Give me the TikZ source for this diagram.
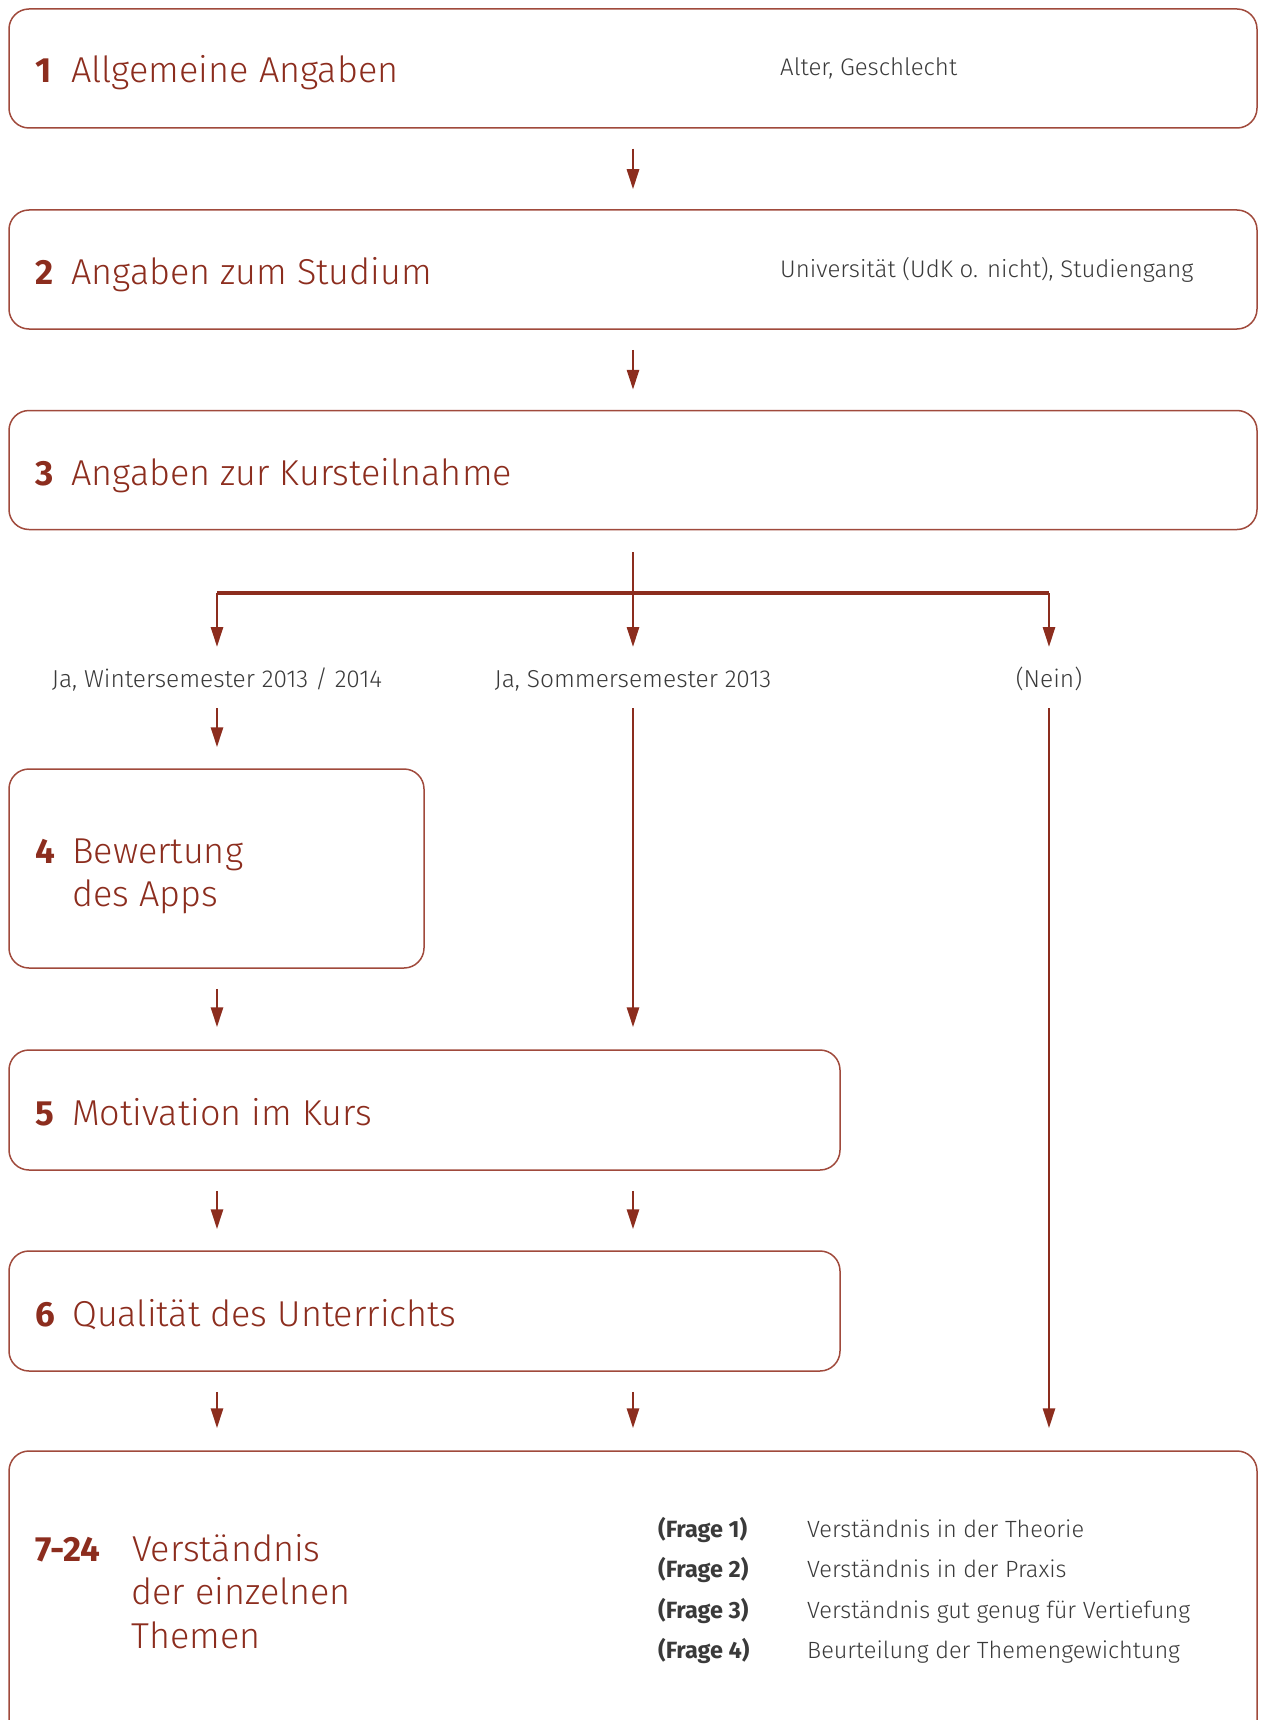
\documentclass[tikz,border=0pt]{standalone}
\usepackage{fontspec}
\setmainfont{Fira Sans}[UprightFont=* Light, BoldFont=* Bold]
\usetikzlibrary{arrows.meta}
\definecolor{rd}{HTML}{8C2D1E}
\definecolor{bd}{HTML}{A04A3C}
\definecolor{tx}{HTML}{3A3A3A}
\begin{document}
\begin{tikzpicture}[x=1pt,y=-1pt,
 box/.style={draw=bd, line width=1.5pt, rounded corners=20pt, inner sep=0pt},
 arr/.style={draw=rd, line width=2.8pt, -{Triangle[length=20pt,width=12pt]}},
 ln/.style={draw=rd, line width=2.8pt},
 ttl/.style={text=rd, font=\fontsize{36}{43}\selectfont, anchor=base west, inner sep=0pt},
 num/.style={text=rd, font=\fontsize{35}{43}\selectfont\bfseries, anchor=base west, inner sep=0pt},
 note/.style={text=tx, font=\fontsize{24}{28}\selectfont, anchor=base west, inner sep=0pt},
 fr/.style={text=tx, font=\fontsize{23.5}{28}\selectfont, anchor=base west, inner sep=0pt},
 frb/.style={text=tx, font=\fontsize{23.5}{28}\selectfont\bfseries, anchor=base west, inner sep=0pt},
 lab/.style={text=tx, font=\fontsize{24.5}{28}\selectfont, anchor=base, inner sep=0pt},
]
\useasboundingbox (0,0) rectangle (1262,1720);
\clip (0,0) rectangle (1262,1720);
% boxes
\node[box, minimum width=1248pt, minimum height=119pt] (b1) at (633,68.5) {};
\node[box, minimum width=1248pt, minimum height=119pt] (b2) at (633,269.5) {};
\node[box, minimum width=1248pt, minimum height=119pt] (b3) at (633,470) {};
\node[box, minimum width=415pt, minimum height=199pt] (b4) at (216.5,868.5) {};
\node[box, minimum width=831pt, minimum height=120pt] (b5) at (424.5,1110) {};
\node[box, minimum width=831pt, minimum height=120pt] (b6) at (424.5,1311) {};
\node[box, minimum width=1248pt, minimum height=340pt] (b7) at (633,1621) {};
% titles
\node[num] (n1) at (35,83) {1};
\node[ttl] (t1) at (71,83) {Allgemeine Angaben};
\node[note] (r1) at (780,76) {Alter, Geschlecht};
\node[num] (n2) at (35,284) {2};
\node[ttl] (t2) at (71,284) {Angaben zum Studium};
\node[note] (r2) at (780,277) {Universität (UdK o. nicht), Studiengang};
\node[num] (n3) at (35,485) {3};
\node[ttl] (t3) at (71,485) {Angaben zur Kursteilnahme};
\node[num] (n4) at (35,863) {4};
\node[ttl] (t4a) at (72,863) {Bewertung};
\node[ttl] (t4b) at (72,906) {des Apps};
\node[num] (n5) at (35,1125) {5};
\node[ttl] (t5) at (72,1125) {Motivation im Kurs};
\node[num] (n6) at (35,1326) {6};
\node[ttl] (t6) at (72,1326) {Qualität des Unterrichts};
\node[num] (n7) at (35,1561) {7-24};
\node[ttl] (t7a) at (132,1561) {Verständnis};
\node[ttl] (t7b) at (131,1604) {der einzelnen};
\node[ttl] (t7c) at (131,1648) {Themen};
\node[frb] (f1) at (658,1537) {(Frage 1)};
\node[fr] (g1) at (807,1537) {Verständnis in der Theorie};
\node[frb] (f2) at (658,1577) {(Frage 2)};
\node[fr] (g2) at (807,1577) {Verständnis in der Praxis};
\node[frb] (f3) at (658,1618) {(Frage 3)};
\node[fr] (g3) at (807,1618) {Verständnis gut genug für Vertiefung};
\node[frb] (f4) at (658,1658) {(Frage 4)};
\node[fr] (g4) at (807,1658) {Beurteilung der Themengewichtung};
% branch labels
\node[lab] (l1) at (217,687) {Ja, Wintersemester 2013 / 2014};
\node[lab] (l2) at (633,687) {Ja, Sommersemester 2013};
\node[lab] (l3) at (1049,687) {(Nein)};
% coordinates
\coordinate (h0) at (633,593);
\coordinate (hl) at (217,593);
\coordinate (hr) at (1049,593);
\coordinate (e1) at (217,647);
\coordinate (e2) at (633,647);
\coordinate (e3) at (1049,647);
\coordinate (u1) at (217,708);
\coordinate (u2) at (633,708);
\coordinate (u3) at (1049,708);
% connectors
\draw[arr] ([yshift=-20pt]b1.south) -- ([yshift=20pt]b2.north);
\draw[arr] ([yshift=-20pt]b2.south) -- ([yshift=20pt]b3.north);
\draw[ln] ([yshift=-22pt]b3.south) -- (h0);
\draw[draw=rd, line width=3.5pt] (hl) -- (hr);
\draw[arr] (hl) -- (e1);
\draw[arr] (h0) -- (e2);
\draw[arr] (hr) -- (e3);
\draw[arr] (u1) -- ([yshift=21pt]b4.north -| u1);
\draw[arr] (u2) -- ([yshift=22pt]b5.north -| u2);
\draw[arr] (u3) -- ([yshift=22pt]b7.north -| u3);
\draw[arr] ([yshift=-20pt]b4.south -| u1) -- ([yshift=22pt]b5.north -| u1);
\draw[arr] ([yshift=-20pt]b5.south -| u1) -- ([yshift=21pt]b6.north -| u1);
\draw[arr] ([yshift=-20pt]b5.south -| u2) -- ([yshift=21pt]b6.north -| u2);
\draw[arr] ([yshift=-20pt]b6.south -| u1) -- ([yshift=22pt]b7.north -| u1);
\draw[arr] ([yshift=-20pt]b6.south -| u2) -- ([yshift=22pt]b7.north -| u2);
\end{tikzpicture}
\end{document}
